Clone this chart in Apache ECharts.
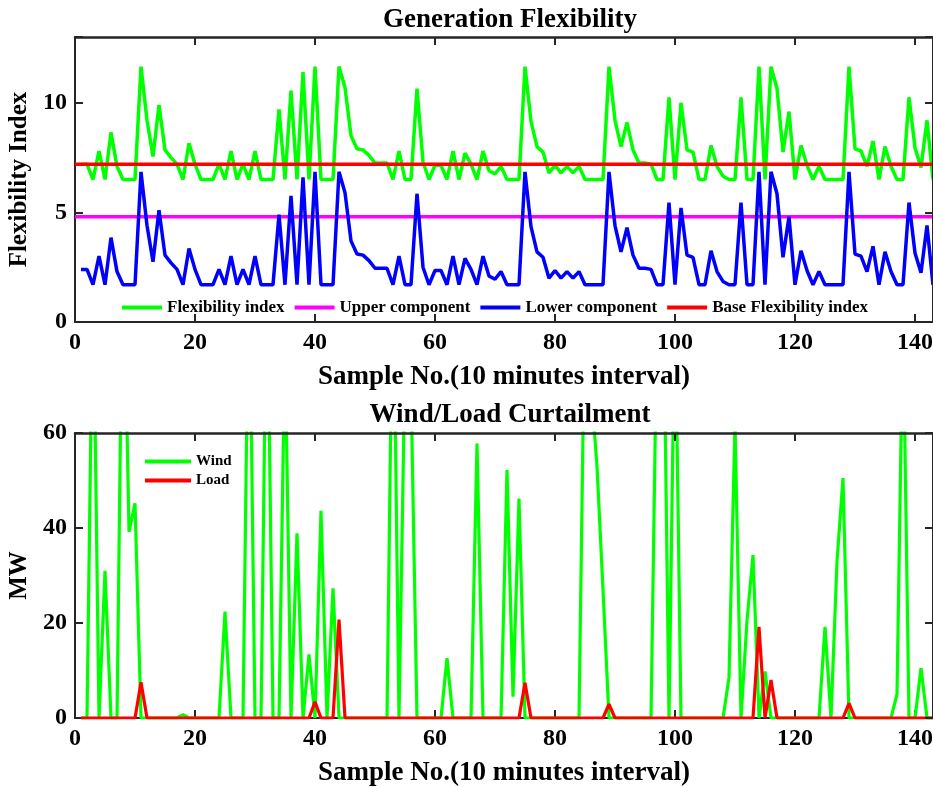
<!DOCTYPE html>
<html>
<head>
<meta charset="utf-8">
<script src="https://cdn.jsdelivr.net/npm/echarts@6/dist/echarts.min.js"></script>
<style>
  html, body { margin: 0; padding: 0; background: #ffffff; }
  #chart { width: 933px; height: 787px; }
</style>
</head>
<body>
<div id="chart"></div>
<script>
// ---- Data: sample numbers 1..143 (10-minute intervals) ----
const sampleCount = 143;
const sampleNo = Array.from({ length: sampleCount }, (_, i) => i + 1);
const xTicks = [0, 20, 40, 60, 80, 100, 120, 140];

// Generation flexibility (top panel)
const flexibilityIndex = [
  7.2, 7.2, 6.5, 7.8, 6.5, 8.65, 7.1, 6.5, 6.5, 6.5,
  11.65, 9.2, 7.55, 9.9, 7.85, 7.5, 7.2, 6.5, 8.15, 7.2,
  6.5, 6.5, 6.5, 7.2, 6.5, 7.8, 6.5, 7.2, 6.5, 7.8,
  6.5, 6.5, 6.5, 9.7, 6.5, 10.55, 6.5, 11.4, 6.5, 11.65,
  6.5, 6.5, 6.5, 11.65, 10.7, 8.5, 7.9, 7.85, 7.6, 7.25,
  7.25, 7.25, 6.5, 7.8, 6.5, 6.5, 10.65, 7.3, 6.5, 7.15,
  7.15, 6.5, 7.8, 6.5, 7.7, 7.2, 6.5, 7.8, 6.9, 6.75,
  7.1, 6.5, 6.5, 6.5, 11.65, 9.15, 8.0, 7.75, 6.8, 7.15,
  6.8, 7.1, 6.8, 7.1, 6.5, 6.5, 6.5, 6.5, 11.65, 9.2,
  8.0, 9.1, 7.85, 7.25, 7.25, 7.2, 6.5, 6.5, 10.25, 6.5,
  10.0, 7.85, 7.75, 6.5, 6.5, 8.05, 7.1, 6.65, 6.5, 6.5,
  10.25, 6.5, 6.5, 11.65, 6.5, 11.65, 10.65, 7.75, 9.6, 6.5,
  8.05, 7.15, 6.5, 7.1, 6.5, 6.5, 6.5, 6.5, 11.65, 7.9,
  7.8, 7.1, 8.25, 6.5, 8.0, 7.1, 6.5, 6.5, 10.25, 7.95,
  7.05, 9.2, 6.5
];
const lowerComponent = [
  2.4, 2.4, 1.7, 3.0, 1.7, 3.85, 2.3, 1.7, 1.7, 1.7,
  6.85, 4.4, 2.75, 5.1, 3.05, 2.7, 2.4, 1.7, 3.35, 2.4,
  1.7, 1.7, 1.7, 2.4, 1.7, 3.0, 1.7, 2.4, 1.7, 3.0,
  1.7, 1.7, 1.7, 4.9, 1.7, 5.75, 1.7, 6.6, 1.7, 6.85,
  1.7, 1.7, 1.7, 6.85, 5.9, 3.7, 3.1, 3.05, 2.8, 2.45,
  2.45, 2.45, 1.7, 3.0, 1.7, 1.7, 5.85, 2.5, 1.7, 2.35,
  2.35, 1.7, 3.0, 1.7, 2.9, 2.4, 1.7, 3.0, 2.1, 1.95,
  2.3, 1.7, 1.7, 1.7, 6.85, 4.35, 3.2, 2.95, 2.0, 2.35,
  2.0, 2.3, 2.0, 2.3, 1.7, 1.7, 1.7, 1.7, 6.85, 4.4,
  3.2, 4.3, 3.05, 2.45, 2.45, 2.4, 1.7, 1.7, 5.45, 1.7,
  5.2, 3.05, 2.95, 1.7, 1.7, 3.25, 2.3, 1.85, 1.7, 1.7,
  5.45, 1.7, 1.7, 6.85, 1.7, 6.85, 5.85, 2.95, 4.8, 1.7,
  3.25, 2.35, 1.7, 2.3, 1.7, 1.7, 1.7, 1.7, 6.85, 3.1,
  3.0, 2.3, 3.45, 1.7, 3.2, 2.3, 1.7, 1.7, 5.45, 3.15,
  2.25, 4.4, 1.7
];
const upperComponent = 4.8;
const baseFlexibilityIndex = 7.2;

// Wind / load curtailment in MW (bottom panel)
const windCurtailment = [
  0, 0, 95, 0, 31, 0, 0, 105, 39.2, 45.2,
  0, 0, 0, 0, 0, 0, 0, 0.7, 0, 0,
  0, 0, 0, 0, 22.4, 0, 0, 0, 100, 0,
  0, 100, 0, 0, 80, 0, 38.9, 0, 13.4, 0,
  43.6, 0, 27.3, 0, 0, 0, 0, 0, 0, 0,
  0, 0, 100, 0, 75, 70, 0, 0, 0, 0,
  0, 12.6, 0, 0, 0, 0, 57.8, 0, 0, 0,
  0, 52.2, 4.5, 46.2, 0, 0, 0, 0, 0, 0,
  0, 0, 0, 0, 90, 70, 53, 27, 0, 0,
  0, 0, 0, 0, 0, 0, 85, 98, 0, 90,
  0, 0, 0, 0, 0, 0, 0, 0, 8.5, 62,
  0, 20.5, 34.3, 0, 9.8, 0, 0, 0, 0, 0,
  0, 0, 0, 0, 19.2, 0, 33, 50.5, 0, 0,
  0, 0, 0, 0, 0, 0, 5, 85, 0, 0,
  10.5, 0, 0
];
const loadCurtailment = [
  0, 0, 0, 0, 0, 0, 0, 0, 0, 0,
  7.5, 0, 0, 0, 0, 0, 0, 0, 0, 0,
  0, 0, 0, 0, 0, 0, 0, 0, 0, 0,
  0, 0, 0, 0, 0, 0, 0, 0, 0, 3.4,
  0, 0, 0, 20.7, 0, 0, 0, 0, 0, 0,
  0, 0, 0, 0, 0, 0, 0, 0, 0, 0,
  0, 0, 0, 0, 0, 0, 0, 0, 0, 0,
  0, 0, 0, 0, 7.4, 0, 0, 0, 0, 0,
  0, 0, 0, 0, 0, 0, 0, 0, 2.9, 0,
  0, 0, 0, 0, 0, 0, 0, 0, 0, 0,
  0, 0, 0, 0, 0, 0, 0, 0, 0, 0,
  0, 0, 0, 19.2, 0, 8.0, 0, 0, 0, 0,
  0, 0, 0, 0, 0, 0, 0, 0, 3.1, 0,
  0, 0, 0, 0, 0, 0, 0, 0, 0, 0,
  0, 0, 0
];

// ---- Styling ----
const FONT = '"Liberation Serif", "Times New Roman", serif';
const AXIS_COLOR = '#262626';
const X_MIN = 0, X_MAX = 143;

const pairs = (ys) => sampleNo.map((x, i) => [x, ys[i]]);
const flat = (v) => [[X_MIN, v], [X_MAX, v]];

const boldText = (size) => ({ fontFamily: FONT, fontWeight: 'bold', fontSize: size, color: '#000' });

function xAxisPair(gridIndex, withName) {
  const tickFmt = (v) => (xTicks.indexOf(v) >= 0 ? String(v) : '');
  return [
    {
      type: 'value', gridIndex, position: 'bottom', min: X_MIN, max: X_MAX, interval: 20,
      axisLine: { show: true, lineStyle: { color: AXIS_COLOR, width: 2 } },
      axisTick: { show: true, inside: true, length: 8, lineStyle: { color: AXIS_COLOR, width: 2 } },
      axisLabel: Object.assign({ margin: 9, formatter: tickFmt }, boldText(24)),
      splitLine: { show: false },
      name: withName, nameLocation: 'middle', nameGap: 42,
      nameTextStyle: boldText(27)
    },
    {
      type: 'value', gridIndex, position: 'top', min: X_MIN, max: X_MAX, interval: 20, z: 5,
      axisLine: { show: true, onZero: false, lineStyle: { color: AXIS_COLOR, width: 2.5 } },
      axisTick: { show: true, inside: true, length: 8, lineStyle: { color: AXIS_COLOR, width: 2 } },
      axisLabel: { show: false },
      splitLine: { show: false }
    }
  ];
}

function yAxisPair(gridIndex, max, interval, name) {
  const fmt = (v) => (v % interval === 0 ? String(v) : '');
  return [
    {
      type: 'value', gridIndex, position: 'left', min: 0, max, interval,
      axisLine: { show: true, onZero: false, lineStyle: { color: AXIS_COLOR, width: 2 } },
      axisTick: { show: true, inside: true, length: 8, lineStyle: { color: AXIS_COLOR, width: 2 } },
      axisLabel: Object.assign({ margin: 8, formatter: fmt }, boldText(24)),
      splitLine: { show: false },
      name, nameLocation: 'middle', nameGap: 38,
      nameTextStyle: boldText(25)
    },
    {
      type: 'value', gridIndex, position: 'right', min: 0, max, interval, z: 5,
      axisLine: { show: true, onZero: false, lineStyle: { color: AXIS_COLOR, width: 2 } },
      axisTick: { show: true, inside: true, length: 8, lineStyle: { color: AXIS_COLOR, width: 2 } },
      axisLabel: { show: false },
      splitLine: { show: false }
    }
  ];
}

const lineSeries = (name, data, color, width, xi, yi) => ({
  name, type: 'line', data, xAxisIndex: xi, yAxisIndex: yi,
  symbol: 'none', smooth: false, animation: false, clip: true,
  lineStyle: { color, width }, itemStyle: { color }
});

const legendItems = (names) => names.map((n) => ({ name: n, icon: 'rect' }));

const option = {
  backgroundColor: '#ffffff',
  animation: false,
  title: [
    { text: 'Generation Flexibility', left: 505, top: 2, textAlign: 'center',
      textStyle: boldText(27) },
    { text: 'Wind/Load Curtailment', left: 505, top: 397, textAlign: 'center',
      textStyle: boldText(27) }
  ],
  legend: [
    {
      data: legendItems(['Flexibility index', 'Upper component', 'Lower component', 'Base Flexibility index']),
      left: 117, top: 294, orient: 'horizontal',
      itemWidth: 40, itemHeight: 4, itemGap: 10,
      textStyle: boldText(17)
    },
    {
      data: legendItems(['Wind', 'Load']),
      left: 140, top: 449, orient: 'vertical',
      itemWidth: 46, itemHeight: 4, itemGap: 4,
      textStyle: boldText(15)
    }
  ],
  grid: [
    { left: 75, top: 37, width: 858, height: 285, outerBoundsMode: 'none', containLabel: false },
    { left: 75, top: 433, width: 858, height: 285, outerBoundsMode: 'none', containLabel: false }
  ],
  xAxis: [
    ...xAxisPair(0, 'Sample No.(10 minutes interval)'),
    ...xAxisPair(1, 'Sample No.(10 minutes interval)')
  ],
  yAxis: [
    ...yAxisPair(0, 13, 5, 'Flexibility Index'),
    ...yAxisPair(1, 60, 20, 'MW')
  ],
  series: [
    lineSeries('Flexibility index', pairs(flexibilityIndex), '#00ff00', 3.5, 0, 0),
    lineSeries('Upper component', flat(upperComponent), '#ff00ff', 3.5, 0, 0),
    lineSeries('Lower component', pairs(lowerComponent), '#0000ff', 3.5, 0, 0),
    lineSeries('Base Flexibility index', flat(baseFlexibilityIndex), '#ff0000', 3.5, 0, 0),
    lineSeries('Wind', pairs(windCurtailment), '#00ff00', 3.2, 2, 2),
    lineSeries('Load', pairs(loadCurtailment), '#ff0000', 3.2, 2, 2)
  ]
};

const chart = echarts.init(document.getElementById('chart'), null, { renderer: 'canvas' });
chart.setOption(option);
</script>
</body>
</html>
